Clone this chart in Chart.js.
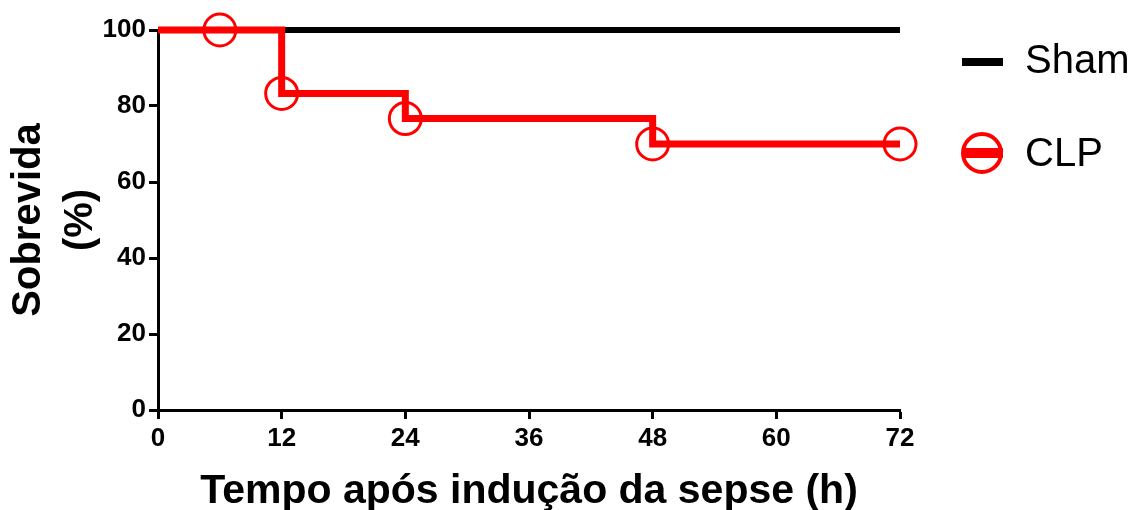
<!DOCTYPE html>
<html>
<head>
<meta charset="utf-8">
<script src="https://cdn.jsdelivr.net/npm/chart.js@4/dist/chart.umd.min.js"></script>
<style>
  html, body { margin: 0; padding: 0; background: #fff; }
  #wrap { width: 1135px; height: 510px; position: relative; }
</style>
</head>
<body>
<div id="wrap"><canvas id="survivalChart"></canvas></div>
<script>
// Kaplan-Meier survival data
const clpHours = [0, 12, 24, 48, 72];
const clpSurvival = [100, 83.3, 76.7, 70, 70];
const clpMarkerHours = [6, 12, 24, 48, 72];
const clpMarkerSurvival = [100, 83.3, 76.7, 70, 70];
const shamHours = [0, 72];
const shamSurvival = [100, 100];
const xTicks = [0, 12, 24, 36, 48, 60, 72];
const yTicks = [0, 20, 40, 60, 80, 100];

const FONT = "'Liberation Sans', Arial, sans-serif";
const RED = '#ff0000';

function toPoints(xs, ys) {
    return xs.map((x, i) => ({ x: x, y: ys[i] }));
}

// legend drawn on the right side of the canvas
const sideLegend = {
    id: 'sideLegend',
    afterDraw(chart) {
        const ctx = chart.ctx;
        ctx.save();
        // Sham
        ctx.strokeStyle = '#000';
        ctx.lineWidth = 8;
        ctx.beginPath();
        ctx.moveTo(962, 62);
        ctx.lineTo(1003, 62);
        ctx.stroke();
        // CLP
        ctx.strokeStyle = RED;
        ctx.lineWidth = 10;
        ctx.beginPath();
        ctx.moveTo(962, 153);
        ctx.lineTo(1003, 153);
        ctx.stroke();
        ctx.lineWidth = 4;
        ctx.beginPath();
        ctx.arc(982, 153, 19, 0, Math.PI * 2);
        ctx.stroke();

        ctx.fillStyle = '#000';
        ctx.font = '40px ' + FONT;
        ctx.textBaseline = 'middle';
        ctx.textAlign = 'left';
        ctx.fillText(chart.data.datasets[2].label, 1025, 62);
        ctx.fillText(chart.data.datasets[0].label, 1025, 155);
        ctx.restore();
    }
};

const ctx = document.getElementById('survivalChart').getContext('2d');
const survivalChart = new Chart(ctx, {
    type: 'line',
    data: {
        datasets: [
            {
                label: 'CLP',
                data: toPoints(clpHours, clpSurvival),
                borderColor: RED,
                borderWidth: 7,
                stepped: 'before',
                pointRadius: 0,
                borderCapStyle: 'butt',
                borderJoinStyle: 'miter',
                clip: false
            },
            {
                label: 'CLP markers',
                data: toPoints(clpMarkerHours, clpMarkerSurvival),
                showLine: false,
                pointRadius: 16,
                pointBorderWidth: 3,
                pointBorderColor: RED,
                pointBackgroundColor: 'rgba(0,0,0,0)',
                clip: false
            },
            {
                label: 'Sham',
                data: toPoints(shamHours, shamSurvival),
                borderColor: '#000',
                borderWidth: 6,
                pointRadius: 0,
                borderCapStyle: 'butt',
                clip: false
            }
        ]
    },
    options: {
        responsive: true,
        maintainAspectRatio: false,
        animation: false,
        layout: {
            padding: { top: 30, right: 235, left: 0, bottom: 0 }
        },
        plugins: {
            legend: { display: false },
            tooltip: { enabled: false }
        },
        scales: {
            x: {
                type: 'linear',
                min: 0,
                max: 72,
                afterFit: (scale) => { scale.height = 100; },
                afterBuildTicks: (scale) => { scale.ticks = xTicks.map(v => ({ value: v })); },
                border: { display: true, color: '#000', width: 3 },
                grid: {
                    drawOnChartArea: false,
                    drawTicks: true,
                    tickLength: 9,
                    tickWidth: 3,
                    tickColor: '#000'
                },
                ticks: {
                    color: '#000',
                    padding: 4,
                    maxRotation: 0,
                    font: { family: FONT, size: 26, weight: 'bold' }
                },
                title: {
                    display: true,
                    text: 'Tempo após indução da sepse (h)',
                    color: '#000',
                    padding: { top: 0, bottom: 0 },
                    font: { family: FONT, size: 41, weight: 'bold', lineHeight: 0.9 }
                }
            },
            y: {
                min: 0,
                max: 100,
                afterFit: (scale) => { scale.width = 158; },
                afterBuildTicks: (scale) => { scale.ticks = yTicks.map(v => ({ value: v })); },
                border: { display: true, color: '#000', width: 3 },
                grid: {
                    drawOnChartArea: false,
                    drawTicks: true,
                    tickLength: 9,
                    tickWidth: 3,
                    tickColor: '#000'
                },
                ticks: {
                    color: '#000',
                    padding: 3,
                    font: { family: FONT, size: 26, weight: 'bold' }
                },
                title: {
                    display: true,
                    text: ['Sobrevida', '(%)'],
                    color: '#000',
                    padding: { top: 3, bottom: 0 },
                    font: { family: FONT, size: 40, weight: 'bold', lineHeight: 1.3 }
                }
            }
        }
    },
    plugins: [sideLegend]
});
</script>
</body>
</html>
